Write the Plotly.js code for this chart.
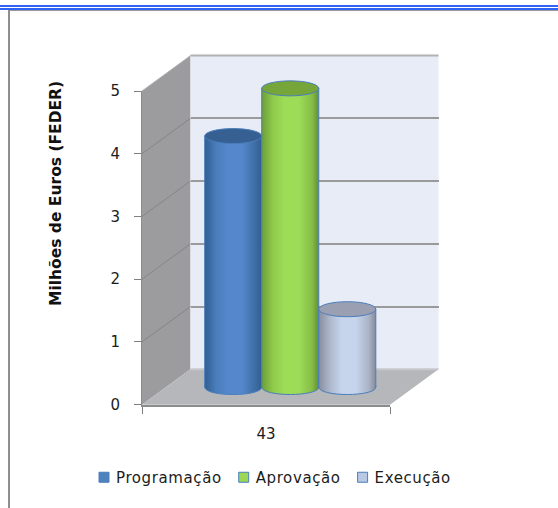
<!DOCTYPE html>
<html>
<head>
<meta charset="utf-8">
<script src="https://cdn.plot.ly/plotly-3.0.1.min.js"></script>
<style>
html,body{margin:0;padding:0;background:#fff}
#chart .legendtext{letter-spacing:.6px}
</style>
</head>
<body>
<div id="chart" style="width:558px;height:508px"></div>
<script>
// Dados do gráfico
const categories = ['43'];
const seriesNames = ['Programação', 'Aprovação', 'Execução'];
const programacao = [4.0];
const aprovacao = [4.76];
const execucao = [1.24];
const yTicks = [0, 1, 2, 3, 4, 5];
const yTitle = 'Milhões de Euros (FEDER)';

const W = 558, H = 508;
const fx = p => p / W;
const fy = p => 1 - p / H;
const FONT = '"DejaVu Sans", Tahoma, sans-serif';

// Geometry of the 3D box: front plane and depth offset, in page pixels
const front = {l: 142, r: 390, y0: 404.7, y5: 91};
const depth = {dx: 48.5, dy: -35.4};
const unit = (front.y0 - front.y5) / 5;
const below = 0.3; // room under the zero line for the cylinder bases

const yFront = v => front.y0 - v * unit;
const poly = pts => 'M' + pts.map(p => fx(p[0]) + ',' + fy(p[1])).join('L') + 'Z';

const colors = ['#4F81BD', '#9BD755', '#B9C8E4'];
const capColors = ['#376092', '#76A53A', '#9A9FB2'];
const edge = '#4A7EBB';
const values = [programacao, aprovacao, execucao];

const traces = values.map((v, i) => ({
  type: 'bar', x: categories, y: v, name: seriesNames[i],
  xaxis: 'x2', yaxis: 'y2',
  marker: {color: colors[i], line: {color: edge, width: 1}}
}));
// Bring the back-wall and front axes into the figure
traces.push({type: 'scatter', mode: 'none', x: [0], y: [0], xaxis: 'x', yaxis: 'y', showlegend: false, hoverinfo: 'skip'});
traces.push({type: 'scatter', mode: 'none', x: categories, y: [0], xaxis: 'x3', yaxis: 'y3', showlegend: false, hoverinfo: 'skip'});

const bargap = 0.31;
const barW = (1 - bargap) / 3;
const capRy = 7.5 / unit;

const shapes = [];
// Side wall and floor
shapes.push({type: 'path', xref: 'paper', yref: 'paper', layer: 'below', line: {width: 0}, fillcolor: '#9C9C9F',
  path: poly([[front.l, front.y5], [front.l + depth.dx, front.y5 + depth.dy], [front.l + depth.dx, front.y0 + depth.dy], [front.l, front.y0]])});
shapes.push({type: 'path', xref: 'paper', yref: 'paper', layer: 'below', line: {width: 0}, fillcolor: '#B5B7BA',
  path: poly([[front.l, front.y0], [front.r, front.y0], [front.r + depth.dx, front.y0 + depth.dy], [front.l + depth.dx, front.y0 + depth.dy]])});
// Back wall
shapes.push({type: 'rect', xref: 'paper', yref: 'paper', layer: 'below', line: {width: 0}, fillcolor: '#E8ECF6',
  x0: fx(front.l + depth.dx), x1: fx(front.r + depth.dx), y0: fy(front.y0 + depth.dy), y1: fy(front.y5 + depth.dy)});
// Top and bottom edges of the back wall
shapes.push({type: 'line', xref: 'paper', yref: 'paper', layer: 'below', line: {color: '#B2B2B4', width: 2},
  x0: fx(front.l + depth.dx), x1: fx(front.r + depth.dx), y0: fy(front.y5 + depth.dy), y1: fy(front.y5 + depth.dy)});
shapes.push({type: 'line', xref: 'paper', yref: 'paper', layer: 'below', line: {color: '#C6C8CC', width: 2},
  x0: fx(front.l + depth.dx), x1: fx(front.r + depth.dx), y0: fy(front.y0 + depth.dy), y1: fy(front.y0 + depth.dy)});
// Grid lines running across the side wall
yTicks.slice(1).forEach(v => shapes.push({type: 'line', xref: 'paper', yref: 'paper', layer: 'below',
  line: {color: v === 5 ? '#B4B4B4' : '#858587', width: 1},
  x0: fx(front.l), y0: fy(yFront(v)), x1: fx(front.l + depth.dx), y1: fy(yFront(v) + depth.dy)}));

// Rounded cylinder bottoms and caps, positioned from the same values as the bars
const baseStart = shapes.length;
const curve = capRy * 4 / 3;
values.forEach((v, i) => {
  const a = (i - 1) * barW - barW / 2, b = a + barW, lift = 0.03;
  shapes.push({type: 'path', xref: 'x2', yref: 'y2', layer: 'above',
    line: {color: edge, width: 1}, fillcolor: colors[i],
    path: `M${a},${lift}L${a},0C${a},${-curve} ${b},${-curve} ${b},0L${b},${lift}`});
});
values.forEach((v, i) => {
  const c = (i - 1) * barW;
  shapes.push({type: 'circle', xref: 'x2', yref: 'y2', layer: 'above',
    line: {color: edge, width: 1}, fillcolor: capColors[i],
    x0: c - barW / 2, x1: c + barW / 2, y0: v[0] - capRy, y1: v[0] + capRy});
});
// Page frame
shapes.push({type: 'rect', xref: 'paper', yref: 'paper', layer: 'above', line: {width: 0}, fillcolor: '#2F62F5',
  x0: 0, x1: 1, y0: fy(7), y1: fy(5)});
shapes.push({type: 'rect', xref: 'paper', yref: 'paper', layer: 'above', line: {width: 0}, fillcolor: '#2F62F5',
  x0: 0, x1: 1, y0: fy(10), y1: fy(8)});
shapes.push({type: 'rect', xref: 'paper', yref: 'paper', layer: 'above', line: {width: 0}, fillcolor: '#9A9A9A',
  x0: fx(8), x1: 1, y0: fy(11), y1: fy(10)});
shapes.push({type: 'rect', xref: 'paper', yref: 'paper', layer: 'above', line: {width: 0}, fillcolor: '#8E8E8E',
  x0: fx(8), x1: fx(10), y0: 0, y1: fy(10)});

const layout = {
  width: W, height: H,
  margin: {l: 0, r: 0, t: 0, b: 0},
  paper_bgcolor: '#fff', plot_bgcolor: 'rgba(0,0,0,0)',
  font: {family: FONT, size: 15, color: '#1c1c1c'},
  barmode: 'group', bargap: bargap, bargroupgap: 0,
  showlegend: true,
  legend: {orientation: 'h', x: fx(76), y: fy(461), xanchor: 'left', yanchor: 'top',
           entrywidth: 90, entrywidthmode: 'pixels', traceorder: 'normal',
           font: {family: FONT, size: 15, color: '#1c1c1c'}, bgcolor: 'rgba(0,0,0,0)', itemclick: false},
  // Back wall axes: only the grid lines are shown
  xaxis: {domain: [fx(front.l + depth.dx), fx(front.r + depth.dx)], range: [0, 1], visible: false, anchor: 'y', fixedrange: true},
  yaxis: {domain: [fy(front.y0 + depth.dy), fy(front.y5 + depth.dy)], range: [0, 5], anchor: 'x',
          tickvals: yTicks, showticklabels: false, ticks: '', showgrid: true, gridcolor: '#9A9A9C', gridwidth: 2,
          zeroline: false, showline: false, fixedrange: true},
  // Mid-depth axes holding the cylinders
  xaxis2: {domain: [fx(front.l + depth.dx / 2), fx(front.r + depth.dx / 2)], type: 'category', categoryarray: categories,
           range: [-0.5, 0.5], visible: false, anchor: 'y2', fixedrange: true},
  yaxis2: {domain: [fy(yFront(-below) + depth.dy / 2), fy(yFront(5) + depth.dy / 2)], range: [-below, 5], visible: false,
           anchor: 'x2', fixedrange: true},
  // Front axes carrying ticks and labels
  xaxis3: {domain: [fx(front.l), fx(front.r)], type: 'category', categoryarray: categories, range: [-0.5, 0.5],
           anchor: 'y3', tickson: 'boundaries', ticks: 'outside', ticklen: 7, tickcolor: '#7F7F7F', tickwidth: 1,
           showline: true, linecolor: '#8C8C8C', linewidth: 2, showgrid: false, zeroline: false, ticklabelstandoff: 14,
           tickfont: {family: FONT, size: 15, color: '#1c1c1c'}, fixedrange: true},
  yaxis3: {domain: [fy(front.y0), fy(front.y5)], range: [0, 5], anchor: 'x3', tickvals: yTicks,
           ticks: 'outside', ticklen: 7, tickcolor: '#7F7F7F', tickwidth: 1,
           showline: true, linecolor: '#8C8C8C', linewidth: 1, showgrid: false, zeroline: false, ticklabelstandoff: 11,
           tickfont: {family: FONT, size: 15, color: '#1c1c1c'}, fixedrange: true},
  shapes: shapes,
  annotations: [{text: '<b>' + yTitle + '</b>', xref: 'paper', yref: 'paper', x: fx(56), y: fy(194),
                 showarrow: false, textangle: -90, xanchor: 'center', yanchor: 'middle',
                 font: {family: FONT, size: 15.5, color: '#111'}}]
};

// Horizontal shading that rounds the cylinders
const gradients = [
  ['#2F5E90', '#4A7DBB', '#5488CC', '#5488CC', '#3F6EA5', '#2F5E90'],
  ['#6C9E38', '#8FCB4C', '#9CDC57', '#9CDC57', '#86BD47', '#648F33'],
  ['#888D9F', '#AEB8CC', '#C6D4EC', '#C6D4EC', '#AAB3C6', '#858A9B']
];
const stops = [0, 0.2, 0.4, 0.65, 0.88, 1];

function addShading() {
  const svg = document.querySelector('#chart .main-svg');
  const ns = 'http://www.w3.org/2000/svg';
  const defs = svg.querySelector('defs');
  gradients.forEach((g, i) => {
    const lg = document.createElementNS(ns, 'linearGradient');
    lg.setAttribute('id', 'cyl' + i);
    g.forEach((c, k) => {
      const s = document.createElementNS(ns, 'stop');
      s.setAttribute('offset', stops[k]);
      s.setAttribute('stop-color', c);
      lg.appendChild(s);
    });
    defs.appendChild(lg);
  });
  document.querySelectorAll('#chart .barlayer .trace.bars').forEach((t, i) => {
    t.querySelectorAll('.point path').forEach(p => { p.style.fill = 'url(#cyl' + i + ')'; });
  });
  document.querySelectorAll('#chart .shapelayer path').forEach(p => {
    const n = +p.getAttribute('data-index');
    if (n >= baseStart && n < baseStart + values.length) p.style.fill = 'url(#cyl' + (n - baseStart) + ')';
  });
  // Compact legend: small swatches close to their labels, entries spaced by text width
  let left = null;
  document.querySelectorAll('#chart .legend .traces').forEach(t => {
    const m = /translate\(\s*([-\d.]+)[ ,]+([-\d.]+)/.exec(t.getAttribute('transform'));
    if (left === null) left = +m[1];
    t.setAttribute('transform', `translate(${left},${m[2]})`);
    left += t.querySelector('.legendtext').getBBox().width + 34;
    t.querySelector('.legendsymbols').setAttribute('transform', 'translate(8,0)');
    const swatch = t.querySelector('.legendsymbols path');
    if (swatch) swatch.setAttribute('d', 'M5,5H-5V-5H5Z');
  });
}

Plotly.newPlot('chart', traces, layout, {displayModeBar: false, staticPlot: true}).then(addShading);
</script>
</body>
</html>
